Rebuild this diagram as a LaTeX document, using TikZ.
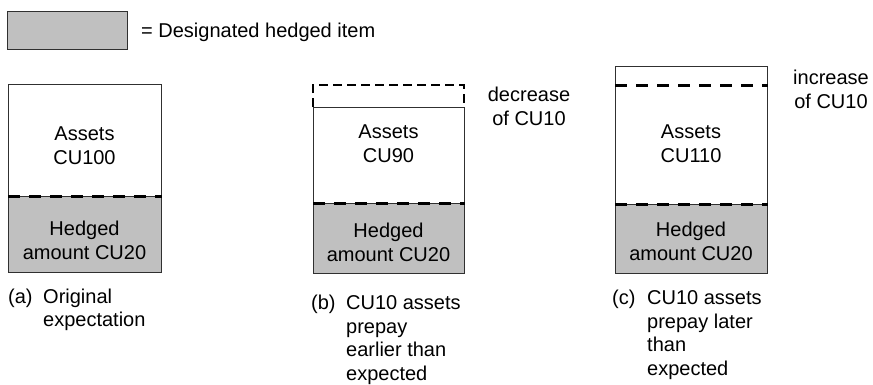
\documentclass[tikz,border=0pt]{standalone}
\usepackage{fontspec}
\setmainfont{Liberation Sans}
\definecolor{hedgegray}{HTML}{C0C0C0}
\definecolor{edgecol}{HTML}{303030}
\tikzset{
  txt/.style={inner sep=0pt, font=\fontsize{20}{23.5}\selectfont, anchor=base},
  region/.style={draw=edgecol, line width=0.9pt, inner sep=0pt, anchor=north west},
  hedged/.style={region, fill=hedgegray},
  divider/.style={line width=3pt, dash pattern=on 12pt off 9pt, black},
  ghost/.style={line width=1.5pt, dash pattern=on 9pt off 5pt, black},
}
\begin{document}
\begin{tikzpicture}[x=1pt,y=-1pt]
\useasboundingbox (0,0) rectangle (873,384);

% legend
\node[hedged, minimum width=120pt, minimum height=38pt] (leg) at (7,11) {};
\node[txt, anchor=base west] (legtxt) at (141,37) {= Designated hedged item};

% (a)  (multi-line nodes: anchor at baseline of last line)
\node[region, minimum width=153pt, minimum height=112pt] (aTop) at (8,84) {};
\node[hedged, minimum width=153pt, minimum height=76pt] (aBot) at (8,196) {};
\draw[divider] (aTop.south west) -- (aTop.south east);
\node[txt, align=center] (aTopTxt) at (84.5,164) {Assets\\CU100};
\node[txt, align=center] (aBotTxt) at (84.5,259) {Hedged\\amount CU20};
\node[txt, anchor=base west] (aCapL) at (8,303) {(a)};
\node[txt, anchor=base west, align=left] (aCap) at (43,326.5) {Original\\expectation};

% (b)
\coordinate (bG1) at (313,107);
\coordinate (bG2) at (313,85);
\coordinate (bG3) at (464,85);
\coordinate (bG4) at (464,107);
\draw[ghost] (bG1) -- (bG2) -- (bG3) -- (bG4);
\node[region, minimum width=151pt, minimum height=96pt] (bTop) at (313,107) {};
\node[hedged, minimum width=151pt, minimum height=70pt] (bBot) at (313,203) {};
\draw[divider] (bTop.south west) -- (bTop.south east);
\node[txt, align=center] (bTopTxt) at (388.5,162) {Assets\\CU90};
\node[txt, align=center] (bBotTxt) at (388.5,261) {Hedged\\amount CU20};
\node[txt, align=center] (bNote) at (529,125) {decrease\\of CU10};
\node[txt, anchor=base west] (bCapL) at (311,309.5) {(b)};
\node[txt, anchor=base west, align=left] (bCap) at (346,380) {CU10 assets\\prepay\\earlier than\\expected};

% (c)
\node[region, minimum width=152pt, minimum height=138pt] (cTop) at (615,66) {};
\node[hedged, minimum width=152pt, minimum height=69pt] (cBot) at (615,204) {};
\coordinate (cD1) at (615,85);
\coordinate (cD2) at (768,85);
\draw[divider] (cD1) -- (cD2);
\draw[divider] (cTop.south west) -- (cTop.south east);
\node[txt, align=center] (cTopTxt) at (691,162) {Assets\\CU110};
\node[txt, align=center] (cBotTxt) at (691,260) {Hedged\\amount CU20};
\node[txt, align=center] (cNote) at (831,108) {increase\\of CU10};
\node[txt, anchor=base west] (cCapL) at (612,304.5) {(c)};
\node[txt, anchor=base west, align=left] (cCap) at (647,375) {CU10 assets\\prepay later\\than\\expected};
\end{tikzpicture}
\end{document}
